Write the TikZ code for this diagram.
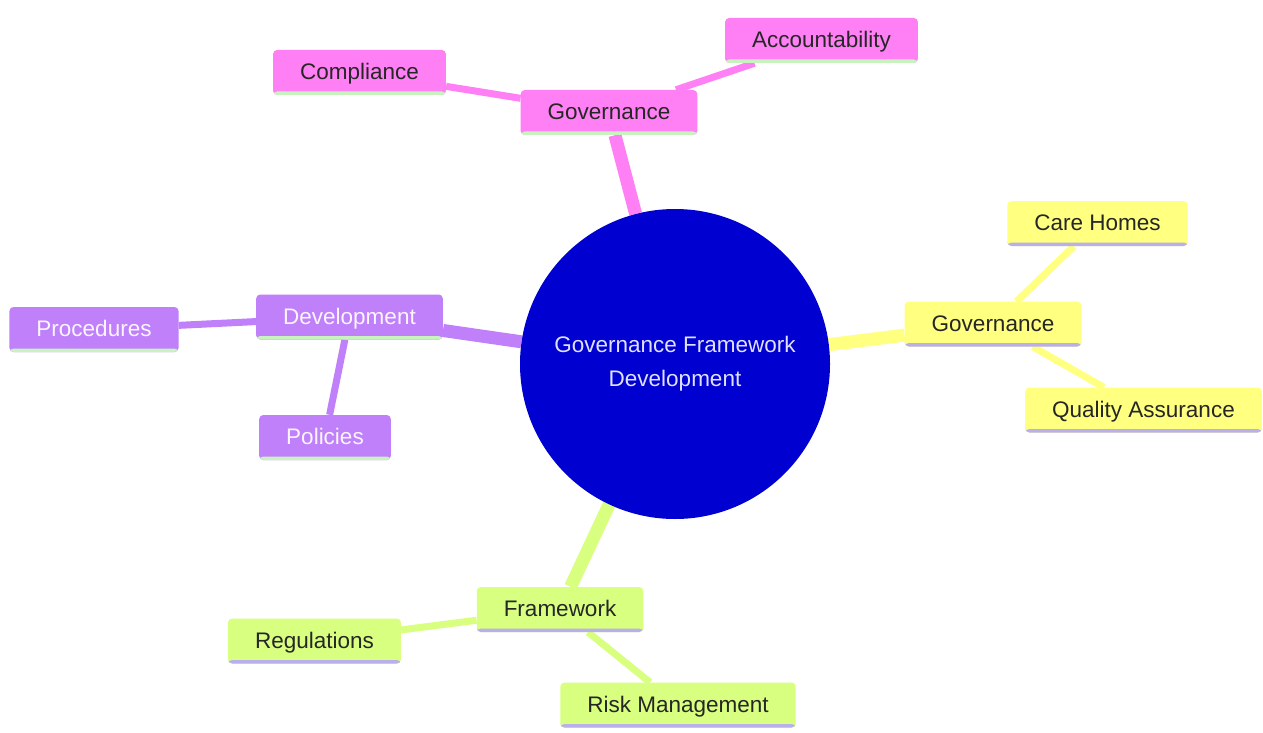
\documentclass[tikz,border=0pt]{standalone}
\usepackage{fontspec}
\setmainfont{Liberation Sans}
\usetikzlibrary{backgrounds}
\definecolor{govpink}{RGB}{255,128,244}
\definecolor{devpurple}{RGB}{192,128,250}
\definecolor{govyellow}{RGB}{255,255,128}
\definecolor{framegreen}{RGB}{216,255,128}
\definecolor{rootblue}{RGB}{0,0,208}
\definecolor{mint}{RGB}{200,242,190}
\definecolor{lavender}{RGB}{185,175,235}
\tikzstyle{idea}=[rectangle, rounded corners=4pt, inner xsep=27pt, inner ysep=0pt, minimum height=45pt, text height=18pt, text depth=4pt, font=\fontsize{22.5}{25}\selectfont]
\tikzset{uline/.style={path picture={\fill[#1] ([yshift=3.5pt]path picture bounding box.south west) rectangle (path picture bounding box.south east);}}}
\tikzstyle{pinkidea}=[idea, fill=govpink, text=black!85, uline=mint]
\tikzstyle{purpleidea}=[idea, fill=devpurple, text=white!92!devpurple, uline=mint]
\tikzstyle{yellowidea}=[idea, fill=govyellow, text=black!85, uline=lavender]
\tikzstyle{greenidea}=[idea, fill=framegreen, text=black!85, uline=lavender]
\tikzstyle{trunk}=[line width=13pt]
\tikzstyle{twig}=[line width=7pt]

\begin{document}
\begin{tikzpicture}[x=1pt, y=-1pt]
\useasboundingbox (0,0) rectangle (1263,733);
% Root
    \node[circle, fill=rootblue, minimum size=310pt, inner sep=0pt, align=center, text=white!88!blue, font=\fontsize{22.5}{34}\selectfont] (root) at (675,364) {Governance Framework\\Development};
% Governance (top)
    \node[pinkidea] (govtop) at (609,112.5) {Governance};
    \node[pinkidea] (compliance) at (359.5,72.5) {Compliance};
    \node[pinkidea] (accountability) at (821.5,40.5) {Accountability};
% Development
    \node[purpleidea] (development) at (349.5,317) {Development};
    \node[purpleidea] (procedures) at (94,329.5) {Procedures};
    \node[purpleidea] (policies) at (325,437.5) {Policies};
% Governance (right)
    \node[yellowidea] (govright) at (993,324) {Governance};
    \node[yellowidea] (carehomes) at (1097.5,223.5) {Care Homes};
    \node[yellowidea] (quality) at (1143.5,410) {Quality Assurance};
% Framework
    \node[greenidea] (framework) at (560,609.5) {Framework};
    \node[greenidea] (regulations) at (314.5,641) {Regulations};
    \node[greenidea] (risk) at (678,705) {Risk Management};
% Links
\begin{pgfonlayer}{background}
    \fill[white] (0,0) rectangle (1263,733);
    \draw[trunk, govpink] (root) -- (govtop);
    \draw[twig, govpink] (govtop) -- (compliance);
    \draw[twig, govpink] (govtop) -- (accountability);
    \draw[trunk, devpurple] (root) -- (development);
    \draw[twig, devpurple] (development) -- (procedures);
    \draw[twig, devpurple] (development) -- (policies);
    \draw[trunk, govyellow] (root) -- (govright);
    \draw[twig, govyellow] (govright) -- (carehomes);
    \draw[twig, govyellow] (govright) -- (quality);
    \draw[trunk, framegreen] (root) -- (framework);
    \draw[twig, framegreen] (framework) -- (regulations);
    \draw[twig, framegreen] (framework) -- (risk);
\end{pgfonlayer}
\end{tikzpicture}
\end{document}
